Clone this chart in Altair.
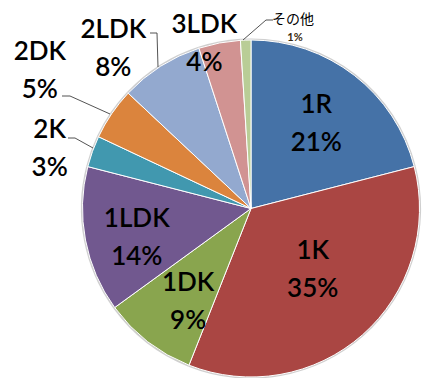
import altair as alt
import pandas as pd

# ---- data ----
categories = ["1R", "1K", "1DK", "1LDK", "2K", "2DK", "2LDK", "3LDK", "その他"]
values = [21, 35, 9, 14, 3, 5, 8, 4, 1]
colors = ["#4572A7", "#AA4643", "#89A54E", "#71588F", "#4198AF",
          "#DB843D", "#93A9CF", "#D19392", "#B9CD96"]

# ---- layout (label placement, polar: angle in pie units, radius px) ----
label_angle = [10.44, 37.44, 59.39, 70.97, 79.58, 84.19, 88.69, 95.61]
label_radius = [107, 87, 113, 118, 210, 252, 211, 171]
other_angle = [3.49, 4.02]
other_radius = [193, 176]

leader_id = ["2DK", "2DK", "2DK", "2K", "2K", "2K", "2LDK", "2LDK", "2LDK", "oth", "oth", "oth"]
leader_x = [54, 62, 102, 60, 67, 85, 142, 149, 150, 265, 258, 235]
leader_y = [88, 88, 106, 130, 130, 140, 25, 25, 59, 12, 12, 32]

CX, CY, R = 243, 200.5, 168.5
LINE_H = 38

pie_df = pd.DataFrame({"cat": categories, "val": values, "idx": list(range(len(categories)))})
lab_df = pd.DataFrame({
    "text": [f"{c}\n{v}%" for c, v in zip(categories[:8], values[:8])],
    "ang": label_angle, "r": label_radius,
})
oth_df = pd.DataFrame({
    "text": [categories[8], f"{values[8]}%"],
    "ang": other_angle, "r": other_radius, "kind": ["name", "pct"],
})
lead_df = pd.DataFrame({"id": leader_id, "x": leader_x, "y": leader_y,
                        "o": list(range(len(leader_x)))})

theta_scale = alt.Scale(domain=[0, 100])
color_scale = alt.Scale(domain=categories, range=colors)

shadow = alt.Chart(pie_df).mark_arc(outerRadius=R + 1.6, color="#cfcfcf").encode(
    theta=alt.Theta("val:Q", stack=True, scale=theta_scale),
    order=alt.Order("idx:Q"),
    x=alt.value(CX), y=alt.value(CY),
)

pie = alt.Chart(pie_df).mark_arc(outerRadius=R, stroke="white", strokeWidth=1).encode(
    theta=alt.Theta("val:Q", stack=True, scale=theta_scale),
    color=alt.Color("cat:N", scale=color_scale, legend=None),
    order=alt.Order("idx:Q"),
    x=alt.value(CX), y=alt.value(CY),
)

labels = alt.Chart(lab_df).mark_text(
    font="Lato", fontSize=26, fontWeight=600, lineBreak="\n", lineHeight=LINE_H,
    align="center", baseline="middle", color="#000000", dy=-LINE_H / 2,
).encode(
    theta=alt.Theta("ang:Q", stack=None, scale=theta_scale),
    radius=alt.Radius("r:Q", scale=None),
    text="text:N",
    x=alt.value(CX), y=alt.value(CY),
)

other_name = alt.Chart(oth_df).transform_filter("datum.kind == 'name'").mark_text(
    font="Noto Sans CJK JP", fontSize=14, align="center", baseline="middle", color="#000000",
).encode(
    theta=alt.Theta("ang:Q", stack=None, scale=theta_scale),
    radius=alt.Radius("r:Q", scale=None),
    text="text:N",
    x=alt.value(CX), y=alt.value(CY),
)

other_pct = alt.Chart(oth_df).transform_filter("datum.kind == 'pct'").mark_text(
    font="Lato", fontSize=11, fontWeight="bold", align="center", baseline="middle", color="#3a2a10",
).encode(
    theta=alt.Theta("ang:Q", stack=None, scale=theta_scale),
    radius=alt.Radius("r:Q", scale=None),
    text="text:N",
    x=alt.value(CX), y=alt.value(CY),
)

leaders = alt.Chart(lead_df).mark_line(color="#404040", strokeWidth=0.9).encode(
    x=alt.X("x:Q", scale=None, axis=None),
    y=alt.Y("y:Q", scale=None, axis=None),
    detail="id:N",
    order="o:Q",
)

chart = alt.layer(shadow, pie, leaders, labels, other_name, other_pct).properties(
    width=429, height=370, padding=0,
    autosize=alt.AutoSizeParams(type="none"),
).configure_view(stroke=None)

chart.save("out.html", embed_options={"renderer": "svg", "actions": False})
